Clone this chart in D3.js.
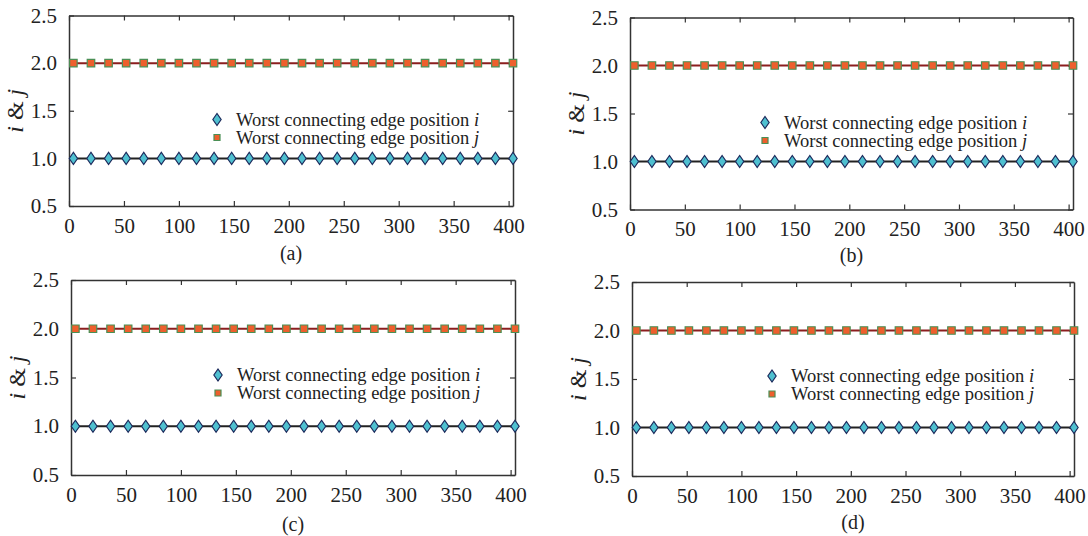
<!DOCTYPE html>
<html>
<head>
<meta charset="utf-8">
<script src="https://cdn.jsdelivr.net/npm/d3@7"></script>
<style>
  body { margin: 0; background: #fff; }
  svg { display: block; font-family: "Liberation Serif", "Times New Roman", Times, serif; }
</style>
</head>
<body>
<script>
// Values (same run in all of them)
var xValues = [4, 20, 36, 52, 68, 84, 100, 116, 132, 148, 164, 180, 196,
               212, 228, 244, 260, 276, 292, 308, 324, 340, 356, 372, 388, 404];
var iValues = [1, 1, 1, 1, 1, 1, 1, 1, 1, 1, 1, 1, 1,
               1, 1, 1, 1, 1, 1, 1, 1, 1, 1, 1, 1, 1];
var jValues = [2, 2, 2, 2, 2, 2, 2, 2, 2, 2, 2, 2, 2,
               2, 2, 2, 2, 2, 2, 2, 2, 2, 2, 2, 2, 2];
var xTicks = [0, 50, 100, 150, 200, 250, 300, 350, 400];
var yTicks = [0.5, 1.0, 1.5, 2.0, 2.5];
var panelNames = ["(a)", "(b)", "(c)", "(d)"];
var seriesNames = ["Worst connecting edge position ", "Worst connecting edge position "];
var seriesVars = ["i", "j"];

var svgWidth = 1088;
var svgHeight = 536;

// panel boxes: left, right, top, bottom, legend offset
var boxes = [
  {left: 69,  right: 513, top: 15.5, bottom: 206, legX: 148, legY: 104, capY: 260},
  {left: 630, right: 1073, top: 17.5, bottom: 209.5, legX: 135, legY: 105, capY: 262},
  {left: 71,  right: 515, top: 280, bottom: 475, legX: 147, legY: 95, capY: 531},
  {left: 632, right: 1074, top: 282, bottom: 476, legX: 140, legY: 94, capY: 529}
];

var axisColor = "#333";

var svg = d3.select("body")
  .append("svg")
  .attr("width", svgWidth)
  .attr("height", svgHeight);

var rows = xValues.map(function(x, k) {
  return {x: x, i: iValues[k], j: jValues[k]};
});

boxes.forEach(function(b, p) {
  var w = b.right - b.left;
  var h = b.bottom - b.top;

  var xScale = d3.scaleLinear().domain([0, 404]).range([0, w]);
  var yScale = d3.scaleLinear().domain([0.5, 2.5]).range([h, 0]);

  var g = svg.append("g")
    .attr("transform", `translate(${b.left}, ${b.top})`);

  // axes: ticks point inward on every side
  var bottomAxis = d3.axisBottom(xScale).tickValues(xTicks).tickSizeInner(-5).tickSizeOuter(0).tickPadding(12);
  var topAxis = d3.axisTop(xScale).tickValues(xTicks).tickSizeInner(-5).tickSizeOuter(0).tickFormat("");
  var leftAxis = d3.axisLeft(yScale).tickValues(yTicks).tickSizeInner(-5).tickSizeOuter(0).tickPadding(12).tickFormat(d3.format(".1f"));
  var rightAxis = d3.axisRight(yScale).tickValues(yTicks).tickSizeInner(-5).tickSizeOuter(0).tickFormat("");

  var gb = g.append("g").attr("transform", `translate(0, ${h})`).call(bottomAxis);
  var gt = g.append("g").call(topAxis);
  var gl = g.append("g").call(leftAxis);
  var gr = g.append("g").attr("transform", `translate(${w}, 0)`).call(rightAxis);

  [gb, gt, gl, gr].forEach(function(a) {
    a.attr("font-family", null);
    a.selectAll("path").attr("stroke", axisColor).attr("stroke-width", 1.5);
    a.selectAll("line").attr("stroke", axisColor).attr("stroke-width", 1.2);
    a.selectAll("text")
      .attr("fill", "#222")
      .style("font-size", "21px");
  });

  // y label  "i & j"
  var yl = g.append("text")
    .attr("transform", `translate(${-46}, ${h / 2}) rotate(-90)`)
    .attr("text-anchor", "middle")
    .attr("fill", "#222")
    .style("font-size", "24px");
  yl.append("tspan").style("font-style", "italic").text("i");
  yl.append("tspan").text(" & ");
  yl.append("tspan").style("font-style", "italic").text("j");

  // caption
  svg.append("text")
    .attr("x", (b.left + b.right) / 2)
    .attr("y", b.capY)
    .attr("text-anchor", "middle")
    .attr("fill", "#222")
    .style("font-size", "20px")
    .text(panelNames[p]);

  // lines
  var lineI = d3.line().x(d => xScale(d.x)).y(d => yScale(d.i));
  var lineJ = d3.line().x(d => xScale(d.x)).y(d => yScale(d.j));

  g.append("path").datum(rows)
    .attr("d", lineJ)
    .attr("fill", "none")
    .attr("stroke", "#8b1e1e")
    .attr("stroke-width", 2);

  g.append("path").datum(rows)
    .attr("d", lineI)
    .attr("fill", "none")
    .attr("stroke", "#222")
    .attr("stroke-width", 2);

  var diamond = d3.symbol().type(d3.symbolDiamond).size(42);
  var square = d3.symbol().type(d3.symbolSquare).size(56);

  g.selectAll(".sq")
    .data(rows)
    .enter()
    .append("path")
    .attr("class", "sq")
    .attr("d", square)
    .attr("transform", d => `translate(${xScale(d.x)}, ${yScale(d.j)})`)
    .attr("fill", "#ee5f2d")
    .attr("stroke", "#4a8f55")
    .attr("stroke-width", 1.2);

  g.selectAll(".dm")
    .data(rows)
    .enter()
    .append("path")
    .attr("class", "dm")
    .attr("d", diamond)
    .attr("transform", d => `translate(${xScale(d.x)}, ${yScale(d.i)}) scale(1.2, 1)`)
    .attr("fill", "#4fc0d0")
    .attr("stroke", "#1d2a5c")
    .attr("stroke-width", 1);

  // legend
  var leg = g.append("g").attr("transform", `translate(${b.legX}, ${b.legY})`);
  leg.append("path")
    .attr("d", diamond)
    .attr("transform", "scale(1.2, 1)")
    .attr("fill", "#4fc0d0")
    .attr("stroke", "#1d2a5c")
    .attr("stroke-width", 1);
  leg.append("path")
    .attr("d", d3.symbol().type(d3.symbolSquare).size(36))
    .attr("transform", "translate(0, 18)")
    .attr("fill", "#ee5f2d")
    .attr("stroke", "#4a8f55")
    .attr("stroke-width", 1.2);

  seriesNames.forEach(function(name, s) {
    var t = leg.append("text")
      .attr("x", 19)
      .attr("y", s * 18 + 6)
      .attr("fill", "#222")
      .style("font-size", "18.5px");
    t.append("tspan").text(name);
    t.append("tspan").style("font-style", "italic").text(seriesVars[s]);
  });
});
</script>
</body>
</html>
